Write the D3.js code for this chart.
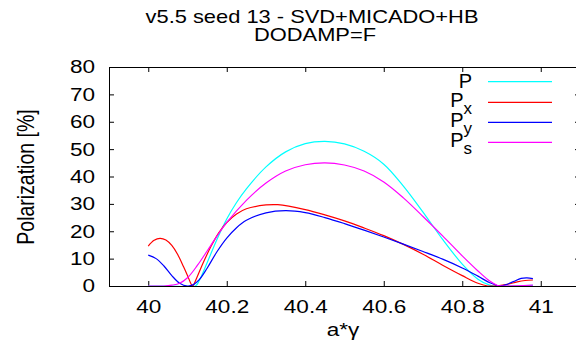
<!DOCTYPE html>
<html>
<head>
<meta charset="utf-8">
<script src="https://cdn.jsdelivr.net/npm/d3@7"></script>
<style>
  html, body { margin: 0; padding: 0; background: #fff; }
  svg { display: block; }
  text { font-family: "Liberation Sans", Arial, sans-serif; fill: #000; }
</style>
</head>
<body>
<svg id="chart" width="576" height="351"></svg>
<script>
// ---- data ----
const titleLines = ["v5.5 seed 13 - SVD+MICADO+HB", "DODAMP=F"];
const xLabel = "a*\u03b3";
const yLabel = "Polarization [%]";
const xTicks = [40, 40.2, 40.4, 40.6, 40.8, 41];
const xTickLabels = ["40", "40.2", "40.4", "40.6", "40.8", "41"];
const yTicks = [0, 10, 20, 30, 40, 50, 60, 70, 80];

const seriesNames = ["P", "Px", "Py", "Ps"];
const seriesColors = ["#00ffff", "#ff0000", "#0000ff", "#ff00ff"];

const pX  = [40.0, 40.06, 40.12, 40.13, 40.15, 40.175, 40.2, 40.225, 40.25, 40.3, 40.35, 40.4, 40.45, 40.5, 40.55, 40.6, 40.65, 40.7, 40.75, 40.8, 40.84, 40.87, 40.88, 40.93, 40.98];
const pV  = [0, 0, 0, 2.0, 8.5, 17, 24.5, 30.5, 35.5, 43.5, 49.0, 52.0, 52.8, 51.9, 49.2, 44.5, 36.5, 27.0, 17.0, 8.0, 2.5, 0.3, 0, 0, 0.2];

const pxX = [40.0, 40.015, 40.03, 40.045, 40.06, 40.075, 40.09, 40.1, 40.11, 40.113, 40.125, 40.14, 40.16, 40.18, 40.2, 40.225, 40.25, 40.3, 40.33, 40.4, 40.45, 40.5, 40.55, 40.6, 40.65, 40.7, 40.75, 40.8, 40.84, 40.865, 40.89, 40.915, 40.94, 40.96, 40.98];
const pxV = [14.6, 16.7, 17.4, 16.8, 14.8, 11.5, 7.0, 3.8, 0.5, 0, 3.5, 8.5, 14.5, 19.5, 23.2, 26.3, 28.2, 29.6, 29.7, 27.9, 26.0, 23.8, 21.2, 18.4, 15.2, 11.6, 7.6, 3.8, 1.0, 0, 0.1, 0.6, 1.5, 2.0, 2.2];

const pyX = [40.0, 40.02, 40.04, 40.06, 40.08, 40.1, 40.115, 40.13, 40.15, 40.175, 40.2, 40.225, 40.25, 40.3, 40.35, 40.4, 40.45, 40.5, 40.55, 40.6, 40.65, 40.7, 40.75, 40.8, 40.84, 40.87, 40.895, 40.91, 40.93, 40.95, 40.965, 40.98];
const pyV = [11.3, 10.0, 7.3, 3.8, 1.0, 0, 0.5, 2.3, 6.5, 12.5, 17.5, 21.3, 24.0, 26.7, 27.5, 26.8, 25.0, 22.8, 20.4, 17.9, 15.3, 12.6, 9.8, 6.6, 3.6, 1.2, 0, 0.4, 1.6, 2.8, 3.0, 2.7];

const psX = [40.0, 40.04, 40.06, 40.08, 40.1, 40.125, 40.15, 40.175, 40.2, 40.25, 40.3, 40.35, 40.4, 40.45, 40.5, 40.55, 40.6, 40.65, 40.7, 40.75, 40.8, 40.84, 40.87, 40.89, 40.9, 40.94, 40.98];
const psV = [0, 0, 0.3, 1.0, 3.0, 7.5, 12.8, 18.2, 23.2, 31.3, 37.6, 42.0, 44.3, 45.0, 44.2, 42.0, 38.0, 32.2, 25.4, 18.3, 11.0, 5.5, 1.8, 0.2, 0, 0.1, 0.3];

const seriesX = [pX, pxX, pyX, psX];
const seriesV = [pV, pxV, pyV, psV];

// ---- layout ----
const W = 576, H = 351;
const plotL = 109, plotR = 580, plotT = 67, plotB = 286;
const stretch = 1.25;

const svg = d3.select("#chart");
const x = d3.scaleLinear().domain([39.9, 41.1]).range([plotL, plotR]);
const y = d3.scaleLinear().domain([0, 80]).range([plotB, plotT]);

svg.append("defs").append("clipPath").attr("id", "plotclip")
  .append("rect").attr("x", plotL).attr("y", plotT).attr("width", plotR - plotL).attr("height", plotB - plotT + 0.6);

// title
svg.append("text").attr("transform", `translate(312,23) scale(${stretch},1)`)
  .attr("text-anchor", "middle").attr("font-size", 17.5).text(titleLines[0]);
svg.append("text").attr("transform", `translate(315,40.5) scale(${stretch},1)`)
  .attr("text-anchor", "middle").attr("font-size", 17.5).text(titleLines[1]);

// axes
const tickLen = 5;
const gx = svg.append("g").attr("transform", `translate(0,${plotB})`)
  .call(d3.axisBottom(x).tickValues(xTicks).tickFormat((d, i) => xTickLabels[i])
    .tickSizeInner(-tickLen).tickSizeOuter(0).tickPadding(14));
gx.selectAll("text").attr("font-size", 18.5).attr("font-family", "Liberation Sans, Arial, sans-serif")
  .attr("transform", `scale(1.22,1)`);

const gy = svg.append("g").attr("transform", `translate(${plotL},0)`)
  .call(d3.axisLeft(y).tickValues(yTicks).tickSizeInner(-tickLen).tickSizeOuter(0).tickPadding(11.5));
gy.selectAll("text").attr("font-size", 18.5).attr("font-family", "Liberation Sans, Arial, sans-serif")
  .attr("transform", `scale(1.22,1)`);

svg.append("g").attr("transform", `translate(0,${plotT})`)
  .call(d3.axisTop(x).tickValues(xTicks).tickFormat("").tickSizeInner(-tickLen).tickSizeOuter(0));
svg.append("g").attr("transform", `translate(${plotR},0)`)
  .call(d3.axisRight(y).tickValues(yTicks).tickFormat("").tickSizeInner(-tickLen).tickSizeOuter(0));

svg.selectAll(".domain").attr("stroke", "none");
svg.selectAll(".tick line").attr("stroke", "#000").attr("stroke-width", 1);

// axis labels
svg.append("text").attr("transform", `translate(343,336) scale(1.22,1)`)
  .attr("text-anchor", "middle").attr("font-size", 18.5).text(xLabel);
svg.append("text").attr("transform", `translate(34,177) rotate(-90) scale(1,1.2)`)
  .attr("text-anchor", "middle").attr("font-size", 19.5).text(yLabel);

// lines
const line = d3.line().x(d => x(d[0])).y(d => y(d[1])).curve(d3.curveCatmullRom.alpha(0.5));
const plotG = svg.append("g").attr("clip-path", "url(#plotclip)");
seriesNames.forEach((name, i) => {
  const pts = seriesX[i].map((xv, j) => [xv, seriesV[i][j]]);
  plotG.append("path").datum(pts).attr("d", line)
    .attr("fill", "none").attr("stroke", seriesColors[i]).attr("stroke-width", 1.2);
});

// frame
svg.append("rect").attr("x", plotL + 0.5).attr("y", plotT + 0.5)
  .attr("width", plotR - plotL).attr("height", plotB - plotT)
  .attr("fill", "none").attr("stroke", "#000").attr("stroke-width", 1);

// legend
const legRows = [81.7, 102.3, 122.3, 142.3];
const legText = svg.append("g");
seriesNames.forEach((name, i) => {
  const ly = legRows[i];
  const t = legText.append("text").attr("x", 472).attr("y", ly + (i === 0 ? 6.5 : 5))
    .attr("text-anchor", "end").attr("font-size", 20);
  t.append("tspan").text(name[0]);
  if (name.length > 1) {
    t.append("tspan").attr("dy", 6.5).attr("font-size", 17).text(name.slice(1));
  }
  svg.append("line").attr("x1", 488).attr("x2", 552).attr("y1", ly).attr("y2", ly)
    .attr("stroke", seriesColors[i]).attr("stroke-width", 1.2);
});
</script>
</body>
</html>
